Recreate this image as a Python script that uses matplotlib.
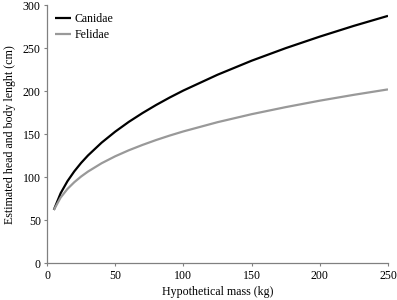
import matplotlib
matplotlib.use("Agg")
import matplotlib.pyplot as plt

mass = [5, 10, 15, 20, 25, 30, 40, 50, 60, 70, 80, 90, 100, 125, 150, 175, 200, 225, 250]
canidae = [62, 81.4, 95.4, 106.8, 116.6, 125.2, 140.1, 152.9, 164.3, 174.5, 183.9, 192.6,
           200.7, 219.0, 235.3, 249.9, 263.3, 275.8, 287.4]
felidae = [62, 76.4, 86.4, 94.2, 100.8, 106.5, 116.2, 124.3, 131.3, 137.5, 143.2, 148.4,
           153.2, 163.9, 173.2, 181.4, 188.9, 195.7, 202.0]
xticks = [0, 50, 100, 150, 200, 250]
yticks = [0, 50, 100, 150, 200, 250, 300]

plt.rcParams['font.family'] = ['Liberation Serif', 'DejaVu Serif']
fs = 8.6
fig = plt.figure(figsize=(3.97, 3.0), dpi=100)
ax = fig.add_axes([0.1184, 0.1223, 0.8589, 0.861])
ax.plot(mass, canidae, color='black', lw=1.6, label='Canidae', solid_capstyle='butt')
ax.plot(mass, felidae, color='#999999', lw=1.6, label='Felidae', solid_capstyle='butt')
ax.set_xlim(0, 250)
ax.set_ylim(0, 300)
ax.set_xticks(xticks)
ax.set_yticks(yticks)
for s in ['top', 'right']:
    ax.spines[s].set_visible(False)
for s in ['left', 'bottom']:
    ax.spines[s].set_color('#808080')
    ax.spines[s].set_linewidth(0.9)
ax.tick_params(axis='both', length=2.5, width=0.8, color='#808080', labelsize=fs, pad=2)
ax.set_xlabel('Hypothetical mass (kg)', fontsize=fs, labelpad=3)
ax.set_ylabel('Estimated head and body lenght (cm)', fontsize=fs, labelpad=5)
ax.legend(loc='upper left', frameon=False, fontsize=fs, handlelength=1.35,
          handletextpad=0.25, borderaxespad=0.3, labelspacing=0.3,
          bbox_to_anchor=(0.0, 1.0))
fig.savefig('out.png', dpi=100)
